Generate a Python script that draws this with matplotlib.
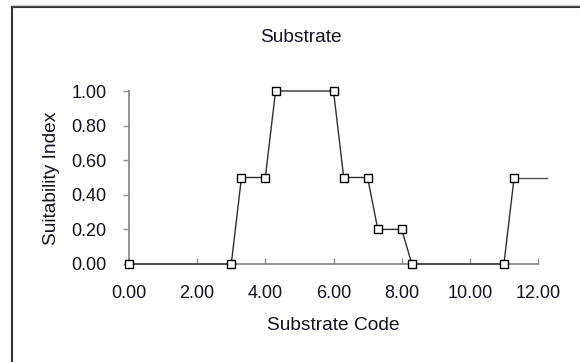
import matplotlib
matplotlib.use("Agg")
import matplotlib.pyplot as plt
from matplotlib.lines import Line2D

# substrate code vs suitability index
codes = [0, 3, 3.3, 4, 4.3, 6, 6.3, 7, 7.3, 8, 8.3, 11, 11.3]
suit = [0, 0, 0.5, 0.5, 1.0, 1.0, 0.5, 0.5, 0.2, 0.2, 0, 0, 0.5]
# the last segment runs on past the axis end, no marker
tail_codes = [11.3, 12.25]
tail_suit = [0.5, 0.5]

x_ticks = [0, 2, 4, 6, 8, 10, 12]
y_ticks = [0, 0.2, 0.4, 0.6, 0.8, 1.0]

plt.rcParams['font.family'] = ['Liberation Sans', 'DejaVu Sans']
txt = '#111122'
axis_col = '#8c8c8c'

fig = plt.figure(figsize=(5.8, 3.62), dpi=100)
ax = fig.add_axes([129 / 580, 1 - 264 / 362, 409 / 580, 173 / 362])

ax.plot(tail_codes, tail_suit, color='#555555', lw=1.0, clip_on=False, zorder=2)
ax.plot(codes, suit, color='#303030', lw=1.0, marker='s', markersize=6.3,
        markerfacecolor='white', markeredgecolor='black', markeredgewidth=1.0,
        clip_on=False, zorder=3)

ax.set_xlim(0, 12)
ax.set_ylim(0, 1)
ax.set_xticks(x_ticks)
ax.set_xticklabels([f"{v:.2f}" for v in x_ticks])
ax.set_yticks(y_ticks)
ax.set_yticklabels([f"{v:.2f}" for v in y_ticks])

for s in ['top', 'right']:
    ax.spines[s].set_visible(False)
for s in ['left', 'bottom']:
    ax.spines[s].set_color(axis_col)
    ax.spines[s].set_linewidth(1.3)

ax.tick_params(axis='y', direction='out', length=4, width=1, color=axis_col,
               labelsize=13, labelcolor=txt, pad=12)
ax.tick_params(axis='x', direction='in', length=4, width=1, color=axis_col,
               labelsize=13, labelcolor=txt, pad=15)

fig.text(333.5 / 580, 1 - 325 / 362, "Substrate Code", ha='center', va='center',
         fontsize=13.8, color=txt)
fig.text(51 / 580, 1 - 178 / 362, "Suitability Index", rotation=90,
         ha='center', va='center', fontsize=13.8, color=txt)
fig.text(300.5 / 580, 1 - 37 / 362, "Substrate", ha='center', va='center',
         fontsize=13.8, color=txt)

# chart frame (cut off at the right and bottom)
fig.add_artist(Line2D([11.5 / 580, 11.5 / 580], [0, 1 - 6.5 / 362],
                      transform=fig.transFigure, color='#333333', lw=1.5))
fig.add_artist(Line2D([11.5 / 580, 1], [1 - 6.5 / 362, 1 - 6.5 / 362],
                      transform=fig.transFigure, color='#333333', lw=1.5))
fig.add_artist(Line2D([11.5 / 580, 1], [1 - 4.5 / 362, 1 - 4.5 / 362],
                      transform=fig.transFigure, color='#cccccc', lw=1.0))

fig.savefig("out.png", dpi=100)
